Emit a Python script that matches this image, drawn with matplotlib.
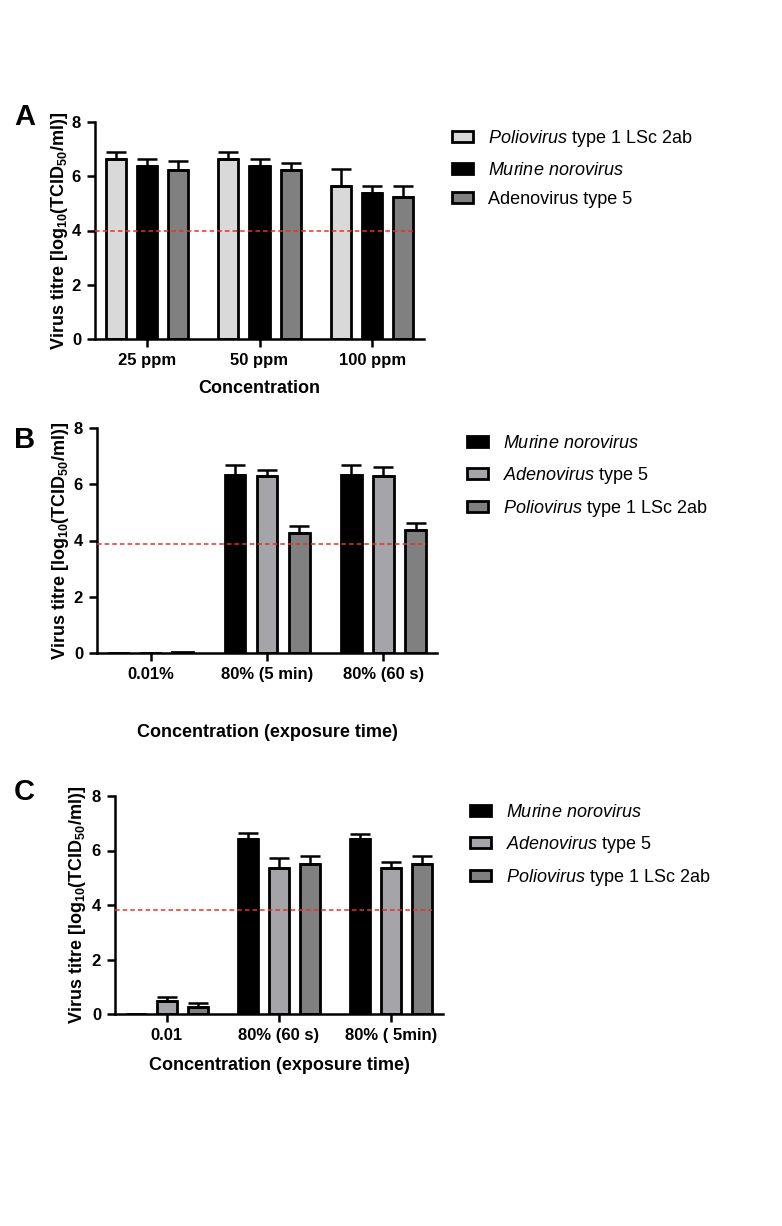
import matplotlib

matplotlib.use("Agg")
import matplotlib.pyplot as plt
import numpy as np
from matplotlib.patches import Patch

plt.rcParams["font.family"] = ["Liberation Sans", "DejaVu Sans"]
plt.rcParams["mathtext.fontset"] = "custom"
plt.rcParams["mathtext.rm"] = "Liberation Sans"
plt.rcParams["mathtext.it"] = "Liberation Sans:italic"
plt.rcParams["mathtext.bf"] = "Liberation Sans:bold"

# panel A: hypochlorite concentration
a_groups = ["25 ppm", "50 ppm", "100 ppm"]
a_series = ["$\\it{Poliovirus}$ type 1 LSc 2ab", "$\\it{Murine\\ norovirus}$", "Adenovirus type 5"]
a_values = [[6.64, 6.64, 5.65], [6.39, 6.39, 5.38], [6.24, 6.24, 5.23]]
a_upper = [[6.89, 6.89, 6.28], [6.65, 6.65, 5.64], [6.57, 6.50, 5.64]]
a_colors = ["#d9d9d9", "#000000", "#808080"]
a_limit = 4.0

# panel B
b_groups = ["0.01%", "80% (5 min)", "80% (60 s)"]
b_series = ["$\\it{Murine\\ norovirus}$", "$\\it{Adenovirus}$ type 5", "$\\it{Poliovirus}$ type 1 LSc 2ab"]
b_values = [[0.0, 6.34, 6.34], [0.0, 6.31, 6.31], [0.04, 4.25, 4.39]]
b_upper = [[0.0, 6.70, 6.70], [0.0, 6.52, 6.60], [0.04, 4.53, 4.62]]
b_colors = ["#000000", "#a5a5a9", "#808080"]
b_limit = 3.89

# panel C
c_groups = ["0.01", "80% (60 s)", "80% ( 5min)"]
c_series = ["$\\it{Murine\\ norovirus}$", "$\\it{Adenovirus}$ type 5", "$\\it{Poliovirus}$ type 1 LSc 2ab"]
c_values = [[0.0, 6.41, 6.41], [0.49, 5.37, 5.37], [0.27, 5.52, 5.52]]
c_upper = [[0.0, 6.64, 6.62], [0.63, 5.74, 5.56], [0.39, 5.79, 5.79]]
c_colors = ["#000000", "#a5a5a9", "#808080"]
c_limit = 3.81

YLABEL = r"Virus titre [log$_\mathbf{10}$(TCID$_\mathbf{50}$/ml)]"


def draw_panel(fig, rect, groups, series, values, upper, colors, limit, xlabel,
               letter, letter_xy, legend_xy, xlabel_pad, ylabel_pad):
    ax = fig.add_axes(rect)
    x = np.arange(len(groups))
    width = 0.178
    step = 0.276
    for i, (vals, ups, col) in enumerate(zip(values, upper, colors)):
        pos = x + (i - 1) * step
        vals = np.array(vals)
        err = np.array(ups) - vals
        ax.bar(pos, vals, width, color=col, edgecolor="black", linewidth=2.0, zorder=2)
        mask = err > 0
        ax.errorbar(pos[mask], vals[mask], yerr=[np.zeros(mask.sum()), err[mask]],
                    fmt="none", ecolor="black", elinewidth=1.8, capsize=7,
                    capthick=1.8, zorder=3)
    ax.hlines(limit, -0.46, x[-1] + step + width / 2, colors="#e8302c",
              linestyles=(0, (3, 2)), linewidth=1.1, zorder=4)
    ax.set_xlim(-0.46, len(groups) - 1 + 0.46)
    ax.set_ylim(0, 8)
    ax.set_yticks([0, 2, 4, 6, 8])
    ax.set_xticks(x)
    ax.set_xticklabels(groups, fontweight="bold", fontsize=12)
    for lab in ax.get_yticklabels():
        lab.set_fontweight("bold")
        lab.set_fontsize(12)
    ax.tick_params(width=1.8, length=6, pad=4)
    for side in ("top", "right"):
        ax.spines[side].set_visible(False)
    for side in ("left", "bottom"):
        ax.spines[side].set_linewidth(1.8)
    ax.set_ylabel(YLABEL, fontweight="bold", fontsize=13, labelpad=ylabel_pad)
    ax.set_xlabel(xlabel, fontweight="bold", fontsize=13, labelpad=xlabel_pad)
    fig.text(letter_xy[0], letter_xy[1], letter, fontsize=21, fontweight="bold",
             ha="left", va="center")
    handles = [Patch(facecolor=c, edgecolor="black", linewidth=2.0) for c in colors]
    fig.legend(handles, series, loc="upper left", bbox_to_anchor=legend_xy,
               bbox_transform=fig.transFigure, frameon=False, fontsize=13,
               handlelength=1.15, handleheight=0.55, handletextpad=0.85,
               labelspacing=0.7, borderpad=0, borderaxespad=0)
    return ax


W, H = 782, 1226
fig = plt.figure(figsize=(W / 100, H / 100), dpi=100)

draw_panel(fig, [95 / W, 1 - 339 / H, 329 / W, 217 / H], a_groups, a_series,
           a_values, a_upper, a_colors, a_limit, "Concentration", "A",
           (14 / W, 1 - 117 / H), (452 / W, 1 - 128 / H), 9, 1)
draw_panel(fig, [97 / W, 1 - 653 / H, 340 / W, 225 / H], b_groups, b_series,
           b_values, b_upper, b_colors, b_limit, "Concentration (exposure time)", "B",
           (14 / W, 1 - 440 / H), (467 / W, 1 - 435 / H), 30, 2)
draw_panel(fig, [115 / W, 1 - 1014 / H, 328 / W, 218 / H], c_groups, c_series,
           c_values, c_upper, c_colors, c_limit, "Concentration (exposure time)", "C",
           (14 / W, 1 - 792 / H), (470 / W, 1 - 804 / H), 10, 3)

fig.savefig("out.png", dpi=100)
